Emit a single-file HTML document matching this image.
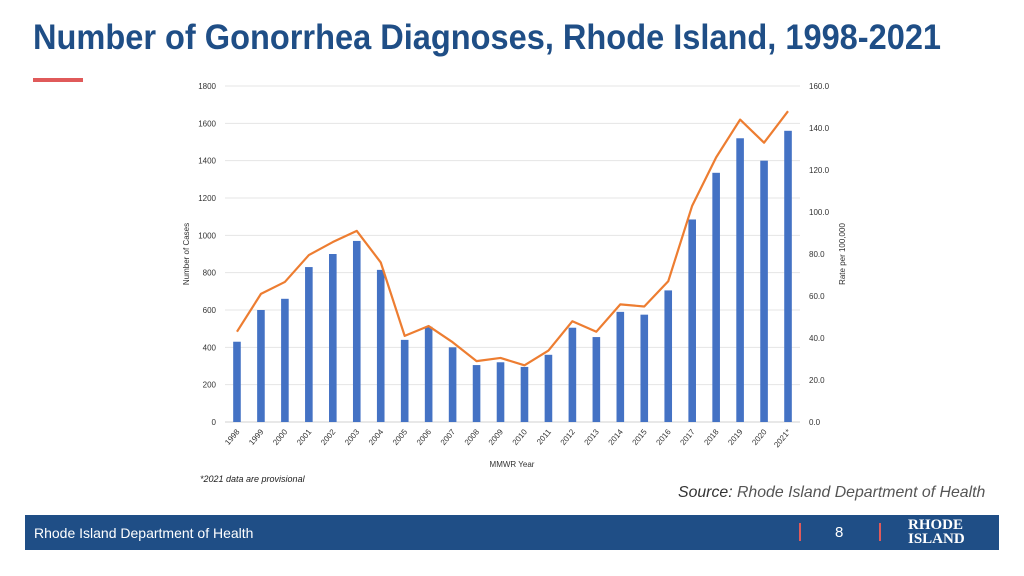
<!DOCTYPE html>
<html><head><meta charset="utf-8"><style>
body{margin:0;width:1024px;height:576px;background:#fff;position:relative;overflow:hidden;font-family:"Liberation Sans",sans-serif}
#title{position:absolute;left:33px;top:18px;font-size:35px;font-weight:bold;color:#1f4e86;transform:scaleX(0.93);transform-origin:left top;white-space:nowrap}
#redbar{position:absolute;left:33px;top:78px;width:50px;height:4px;background:#e05a5a}
#src{position:absolute;left:678px;top:484px;font-size:16px;font-style:italic;color:#555;white-space:nowrap;transform:scaleX(0.99);transform-origin:left top}
#footer{position:absolute;left:25px;top:515px;width:974px;height:35px;background:#1f4e86}
</style></head><body>
<div id="title">Number of Gonorrhea Diagnoses, Rhode Island, 1998-2021</div>
<div id="redbar"></div>
<svg id="chart" width="1024" height="576" style="position:absolute;left:0;top:0"></svg>
<div id="src"><span style="color:#333">Source:</span> Rhode Island Department of Health</div>
<div id="footer">
<div style="position:absolute;left:9px;top:10px;color:#fff;font-size:14px">Rhode Island Department of Health</div>
<div style="position:absolute;left:774px;top:8px;width:2px;height:18px;background:#e05a5a"></div>
<div style="position:absolute;left:810px;top:9px;color:#fff;font-size:15px">8</div>
<div style="position:absolute;left:854px;top:8px;width:2px;height:18px;background:#e05a5a"></div>
<div style="position:absolute;left:883px;top:3px;color:#fff;font-family:'Liberation Serif',serif;font-weight:bold;font-size:15px;line-height:14px">RHODE<br>ISLAND</div>
</div>
<script>
const years=["1998","1999","2000","2001","2002","2003","2004","2005","2006","2007","2008","2009","2010","2011","2012","2013","2014","2015","2016","2017","2018","2019","2020","2021*"];
const cases=[430,600,660,830,900,970,815,440,510,400,305,320,295,360,505,455,590,575,705,1085,1335,1520,1400,1560];
const rates=[43,61,66.7,79.5,85.7,91,76,41,45.7,38,29,30.5,27,34,48,43,56,55,67,103,126,144,133,148];
const leftTicks=[0,200,400,600,800,1000,1200,1400,1600,1800];
const rightTicks=["0.0","20.0","40.0","60.0","80.0","100.0","120.0","140.0","160.0"];
const svg=document.getElementById('chart');const NS='http://www.w3.org/2000/svg';
const X0=225,X1=800,Y0=422,Y1=86;
const yL=v=>Y0-(v/1800)*(Y0-Y1);
const yR=v=>Y0-(v/160)*(Y0-Y1);
const step=(X1-X0)/years.length;
const xC=i=>X0+step*(i+0.5);
function mk(t,a,txt){const e=document.createElementNS(NS,t);for(const k in a)e.setAttribute(k,a[k]);if(txt!==undefined)e.textContent=txt;svg.appendChild(e);return e;}
leftTicks.forEach(v=>{
 const g=mk('line',{x1:X0,x2:X1,y1:yL(v),y2:yL(v),stroke:v===0?'#d0d0d0':'#e4e4e4','stroke-width':1});
 
 
 const t=mk('text',{x:216,y:yL(v)+3,'text-anchor':'end','font-size':8,fill:'#333'},v);
 
 
});
rightTicks.forEach(s=>{
 const t=mk('text',{x:809,y:yR(parseFloat(s))+3,'font-size':8,fill:'#333'},s);
 
 
});
cases.forEach((v,i)=>{
 const r=mk('rect',{x:xC(i)-3.8,y:yL(v),width:7.6,height:Y0-yL(v),fill:'#4472c4'});
 
 
 const t=mk('text',{x:xC(i)+3,y:432,'text-anchor':'end','font-size':8,fill:'#333',transform:`rotate(-50 ${xC(i)+3} 432)`},years[i]);
 
 
});
const p=mk('polyline',{points:rates.map((v,i)=>xC(i)+','+yR(v)).join(' '),fill:'none',stroke:'#ed7d31','stroke-width':2.2,'stroke-linejoin':'round'});


let t=mk('text',{x:512,y:467,'text-anchor':'middle','font-size':8,fill:'#333'},'MMWR Year');


t=mk('text',{x:189,y:254,'text-anchor':'middle','font-size':8,fill:'#333',transform:'rotate(-90 189 254)'},'Number of Cases');


t=mk('text',{x:845,y:254,'text-anchor':'middle','font-size':8,fill:'#333',transform:'rotate(-90 845 254)'},'Rate per 100,000');


t=mk('text',{x:200,y:482,'font-size':9,'font-style':'italic',fill:'#222'},'*2021 data are provisional');


</script>
</body></html>
